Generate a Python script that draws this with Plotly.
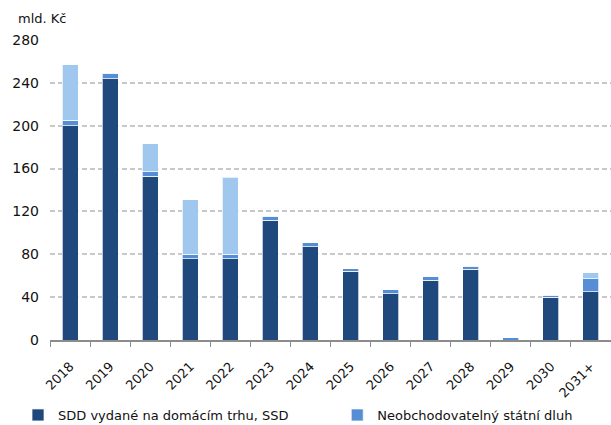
import plotly.graph_objects as go

years = ["2018", "2019", "2020", "2021", "2022", "2023", "2024",
         "2025", "2026", "2027", "2028", "2029", "2030", "2031+"]

# Splatnost státního dluhu podle instrumentů (mld. Kč)
sdd_domestic = [200, 244, 153, 76, 76, 112, 87, 64, 43, 56, 66, 0, 40, 45]
non_marketable = [5, 5, 4, 4, 4, 3.5, 4, 2.5, 4, 3, 3, 2, 2, 12]
other_debt = [52, 0, 26, 51, 72, 0, 0, 0, 0, 0, 0, 0, 0, 6]

y_ticks = [0, 40, 80, 120, 160, 200, 240, 280]

FONT = "DejaVu Sans"
outline = dict(color="rgba(255,255,255,0.7)", width=1)

fig = go.Figure()
fig.add_trace(go.Bar(x=years, y=sdd_domestic, name="SDD vydané na domácím trhu, SSD",
                     marker=dict(color="#1f497d", line=outline), legend="legend"))
fig.add_trace(go.Bar(x=years, y=non_marketable, name="Neobchodovatelný státní dluh",
                     marker=dict(color="#558ed5", line=outline), legend="legend2"))
fig.add_trace(go.Bar(x=years, y=other_debt, name="Ostatní",
                     marker=dict(color="#a0c8ee", line=outline), showlegend=False))

legend_style = dict(orientation="h", y=-0.2, xanchor="left", yanchor="top",
                    font=dict(family=FONT, size=13), itemwidth=30,
                    bgcolor="rgba(0,0,0,0)")

fig.update_layout(
    barmode="stack",
    bargap=0.6,
    width=611, height=425,
    margin=dict(l=50, r=0, t=40, b=85, autoexpand=False),
    plot_bgcolor="white", paper_bgcolor="white",
    font=dict(family=FONT, size=13, color="#111111"),
    legend=dict(x=-0.057, **legend_style),
    legend2=dict(x=0.512, **legend_style),
    showlegend=True,
)

fig.update_xaxes(
    type="category",
    showline=True, linecolor="#8c8c8c", linewidth=1.5,
    ticks="outside", tickson="boundaries", ticklen=5, tickcolor="#8c8c8c",
    tickangle=-45, tickfont=dict(family=FONT, size=13),
    ticklabelstandoff=12,
    showgrid=False,
)
fig.update_yaxes(
    range=[0, 280], tickvals=y_ticks,
    showgrid=True, gridcolor="#c8c8c8", gridwidth=1.5, griddash="5px,3px",
    zeroline=False, showline=False, ticks="",
    ticklabelstandoff=10,
    tickfont=dict(family=FONT, size=14),
)

fig.add_annotation(text="mld. Kč", xref="paper", yref="paper", x=-0.061, y=1.04,
                   xanchor="left", yanchor="bottom", showarrow=False,
                   font=dict(family=FONT, size=13))

fig.write_html("out.html")
